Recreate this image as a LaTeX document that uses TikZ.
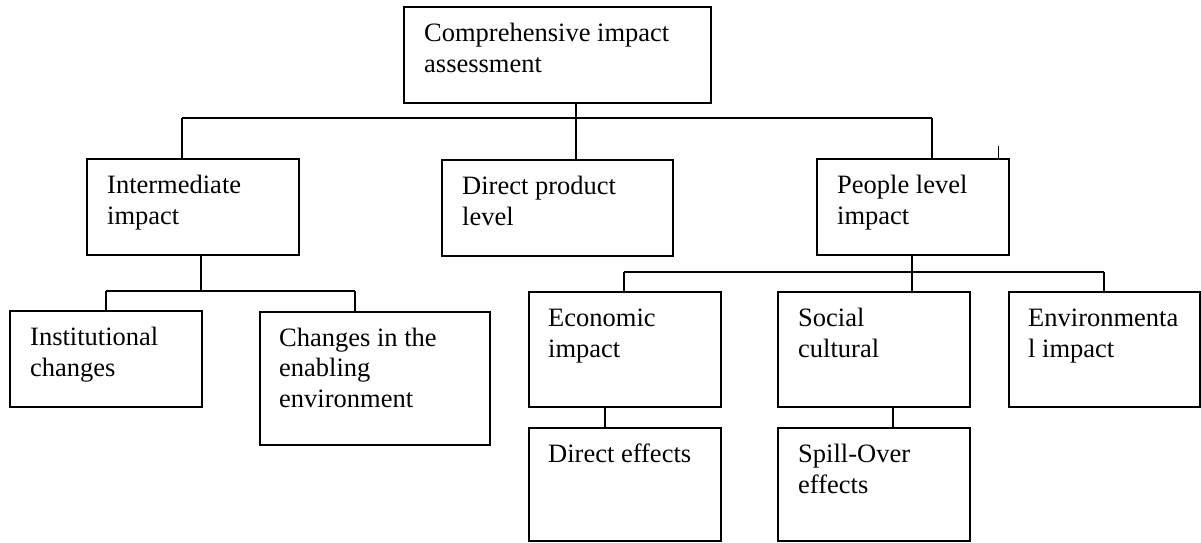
\documentclass[tikz,border=0pt]{standalone}
\usepackage{fontspec}
\setmainfont{Liberation Serif}
\newcommand{\boxfont}{\fontsize{26.5pt}{30.7pt}\selectfont}
\newcommand{\boxlines}[1]{\begin{tabular}[t]{@{}l@{}}#1\end{tabular}}
\begin{document}
\begin{tikzpicture}[x=1pt, y=-1pt,
  box/.style={draw, line width=1.7pt, inner sep=0pt, anchor=north west},
  txt/.style={anchor=base west, inner sep=0pt, font=\boxfont},
  conn/.style={line width=1.4pt},
  tickline/.style={line width=0.8pt}]
\useasboundingbox (0,0) rectangle (1201,542);

% boxes (top-left corner, size)
\node[box, minimum width=307pt, minimum height=96pt] (top) at (403,6) {};
\node[box, minimum width=212pt, minimum height=96pt] (int) at (86,158) {};
\node[box, minimum width=231pt, minimum height=96pt] (dp)  at (441,159) {};
\node[box, minimum width=192pt, minimum height=96pt] (ppl) at (816,158) {};
\node[box, minimum width=192pt, minimum height=96pt] (inst) at (9,310) {};
\node[box, minimum width=230pt, minimum height=133pt] (chg) at (259,311) {};
\node[box, minimum width=192pt, minimum height=115pt] (eco) at (528,291) {};
\node[box, minimum width=192pt, minimum height=115pt] (soc) at (777,291) {};
\node[box, minimum width=191pt, minimum height=115pt] (env) at (1008,291) {};
\node[box, minimum width=192pt, minimum height=113pt] (de)  at (528,427) {};
\node[box, minimum width=192pt, minimum height=113pt] (sp)  at (777,427) {};

% texts, left aligned near the top of each box
\node[txt] (top-t)  at ([shift={(21,35.5)}]top.north west)  {\boxlines{Comprehensive impact\\assessment}};
\node[txt] (int-t)  at ([shift={(21,35.5)}]int.north west)  {\boxlines{Intermediate\\impact}};
\node[txt] (dp-t)   at ([shift={(21,35.5)}]dp.north west)   {\boxlines{Direct product\\level}};
\node[txt] (ppl-t)  at ([shift={(21,35.5)}]ppl.north west)  {\boxlines{People level\\impact}};
\node[txt] (inst-t) at ([shift={(21,35.5)}]inst.north west) {\boxlines{Institutional\\changes}};
\node[txt] (chg-t)  at ([shift={(20,35)}]chg.north west)    {\boxlines{Changes in the\\enabling\\environment}};
\node[txt] (eco-t)  at ([shift={(20,35.5)}]eco.north west)  {\boxlines{Economic\\impact}};
\node[txt] (soc-t)  at ([shift={(21,35.5)}]soc.north west)  {\boxlines{Social\\cultural}};
\node[txt] (env-t)  at ([shift={(20,35.5)}]env.north west)  {\boxlines{Environmenta\\l impact}};
\node[txt] (de-t)   at ([shift={(20,35.5)}]de.north west)   {\boxlines{Direct effects}};
\node[txt] (sp-t)   at ([shift={(21,35.5)}]sp.north west)   {\boxlines{Spill-Over\\effects}};

% junction points of the connector buses
\coordinate (busL) at (182,118);
\coordinate (busM) at (576,118);
\coordinate (busR) at (932,118);
\coordinate (tick) at (998,146);
\coordinate (b2L) at (106,291);
\coordinate (b2M) at (201,291);
\coordinate (b2R) at (355,291);
\coordinate (b3L) at (624,272);
\coordinate (b3M) at (912,272);
\coordinate (b3R) at (1104,272);
\coordinate (c1) at (605,416);
\coordinate (c2) at (893,416);

% first level
\draw[conn] (busL) -- (busR);
\draw[conn] (top.south -| busM) -- (dp.north -| busM);
\draw[conn] (busL) -- (int.north -| busL);
\draw[conn] (busR) -- (ppl.north -| busR);
\draw[tickline] (tick) -- (ppl.north -| tick);

% below the intermediate impact
\draw[conn] (int.south -| b2M) -- (b2M);
\draw[conn] (b2L) -- (b2R);
\draw[conn] (b2L) -- (inst.north -| b2L);
\draw[conn] (b2R) -- (chg.north -| b2R);

% below the people level impact
\draw[conn] (b3L) -- (b3R);
\draw[conn] (ppl.south -| b3M) -- (soc.north -| b3M);
\draw[conn] (b3L) -- (eco.north -| b3L);
\draw[conn] (b3R) -- (env.north -| b3R);

% effects
\draw[conn] (eco.south -| c1) -- (de.north -| c1);
\draw[conn] (soc.south -| c2) -- (sp.north -| c2);
\end{tikzpicture}
\end{document}
